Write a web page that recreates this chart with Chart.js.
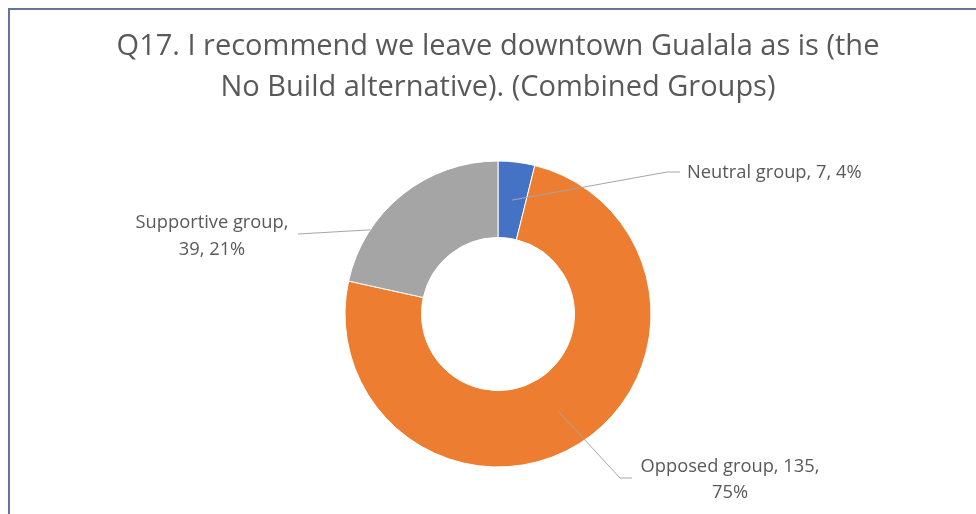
<!DOCTYPE html>
<html>
<head>
<meta charset="utf-8">
<script src="https://cdn.jsdelivr.net/npm/chart.js@4.4.0/dist/chart.umd.min.js"></script>
<style>
  html, body { margin: 0; padding: 0; background: #fff; }
  #wrap { width: 976px; height: 514px; position: relative; }
</style>
</head>
<body>
<div id="wrap"><canvas id="donut" width="976" height="514"></canvas></div>
<script>
const categories = ["Neutral group", "Opposed group", "Supportive group"];
const counts = [7, 135, 39];
const percents = [4, 75, 21];
const sliceColors = ["#4472C4", "#ED7D31", "#A5A5A5"];
const titleLines = [
  "Q17. I recommend we leave downtown Gualala as is (the",
  "No Build alternative). (Combined Groups)"
];

const TEXT_COLOR = "#595959";
const LEADER_COLOR = "#A6A6A6";
const FONT = "'Open Sans', sans-serif";

// label placement, relative to the doughnut centre
// frac = where along the slice the leader starts, rad = "mid" of ring or "outer" edge
const labelLayout = [
  { frac: 0.5, rad: "mid", path: [[169, -142], [182, -142]], lines: l => [l.join(", ")], tx: 189, ty: [-141], align: "left" },
  { frac: 0.5, rad: "mid", path: [[122, 164], [134, 164]], lines: l => [l[0] + ", " + l[1] + ",", l[2]], tx: 232, ty: [153, 179], align: "center" },
  { frac: 0.27, rad: "outer", path: [[-200, -80]], lines: l => [l[0] + ",", l[1] + ", " + l[2]], tx: -286, ty: [-91, -64], align: "center" }
];

const framePlugin = {
  id: "frame",
  beforeDraw(chart) {
    const { ctx, width, height } = chart;
    ctx.save();
    ctx.strokeStyle = "#66739A";
    ctx.lineWidth = 2;
    ctx.beginPath();
    ctx.moveTo(9, height);
    ctx.lineTo(9, 9);
    ctx.lineTo(width, 9);
    ctx.stroke();
    ctx.restore();
  }
};

const labelPlugin = {
  id: "sliceLabels",
  afterDatasetsDraw(chart) {
    const { ctx } = chart;
    const meta = chart.getDatasetMeta(0);
    ctx.save();
    meta.data.forEach((arc, i) => {
      const p = arc.getProps(["x", "y", "startAngle", "endAngle", "innerRadius", "outerRadius"], true);
      const cfg = labelLayout[i];
      const a = p.startAngle + (p.endAngle - p.startAngle) * cfg.frac;
      const r = cfg.rad === "outer" ? p.outerRadius : (p.innerRadius + p.outerRadius) / 2;

      ctx.strokeStyle = LEADER_COLOR;
      ctx.lineWidth = 1;
      ctx.beginPath();
      ctx.moveTo(p.x + Math.cos(a) * r, p.y + Math.sin(a) * r);
      cfg.path.forEach(([dx, dy]) => ctx.lineTo(p.x + dx, p.y + dy));
      ctx.stroke();

      const parts = [categories[i], String(counts[i]), percents[i] + "%"];
      const lines = cfg.lines(parts);
      ctx.fillStyle = TEXT_COLOR;
      ctx.font = "18.3px " + FONT;
      ctx.textAlign = cfg.align;
      ctx.textBaseline = "middle";
      lines.forEach((t, k) => ctx.fillText(t, p.x + cfg.tx, p.y + cfg.ty[k]));
    });
    ctx.restore();
  }
};

new Chart(document.getElementById("donut"), {
  type: "doughnut",
  data: {
    labels: categories,
    datasets: [{
      data: counts,
      backgroundColor: sliceColors,
      borderColor: "#ffffff",
      borderWidth: 1,
      radius: 153,
      cutout: "50%"
    }]
  },
  options: {
    responsive: false,
    animation: false,
    layout: { padding: { left: 20, right: 0, top: 0, bottom: 0 } },
    plugins: {
      legend: { display: false },
      tooltip: { enabled: false },
      title: {
        display: true,
        text: titleLines,
        color: TEXT_COLOR,
        font: { family: FONT, size: 29, weight: "normal", lineHeight: "41px" },
        padding: { top: 26.5, bottom: 5.5 }
      }
    }
  },
  plugins: [framePlugin, labelPlugin]
});
</script>
</body>
</html>
